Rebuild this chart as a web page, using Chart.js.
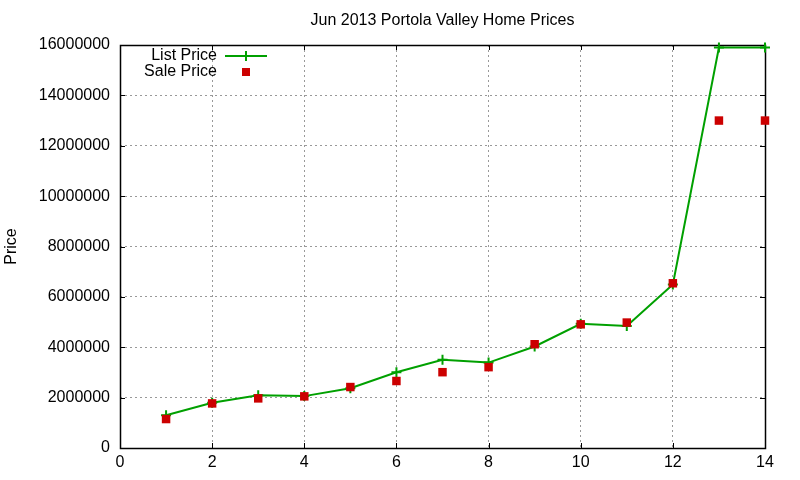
<!DOCTYPE html>
<html>
<head>
<meta charset="utf-8">
<script src="https://cdn.jsdelivr.net/npm/chart.js@4/dist/chart.umd.min.js"></script>
<style>
html,body{margin:0;padding:0;background:#fff;}
#c{display:block;}
</style>
</head>
<body>
<canvas id="c" width="800" height="480"></canvas>
<script>
const chartTitle = 'Jun 2013 Portola Valley Home Prices';
const yAxisTitle = 'Price';
const houses = [1, 2, 3, 4, 5, 6, 7, 8, 9, 10, 11, 12, 13, 14];
const listPrice = [1300000, 1800000, 2090000, 2060000, 2370000, 3010000, 3500000, 3390000, 4030000, 4930000, 4840000, 6490000, 15900000, 15900000];
const salePrice = [1150000, 1770000, 1970000, 2050000, 2420000, 2660000, 3010000, 3210000, 4120000, 4910000, 4980000, 6540000, 13000000, 13000000];
const seriesNames = ['List Price', 'Sale Price'];
const xTickValues = [0, 2, 4, 6, 8, 10, 12, 14];
const yTickValues = [0, 2000000, 4000000, 6000000, 8000000, 10000000, 12000000, 14000000, 16000000];

const FONT = "'Liberation Sans', Arial, sans-serif";
const GREEN = '#00a000';
const RED = '#cc0000';

const toPoints = (xs, ys) => xs.map((x, i) => ({x: x, y: ys[i]}));

const framePlugin = {
  id: 'frame',
  beforeDatasetsDraw(chart) {
    const {ctx, chartArea: a, scales} = chart;
    ctx.save();
    ctx.strokeStyle = '#000';
    ctx.lineWidth = 1;
    ctx.beginPath();
    const tl = 5;
    xTickValues.forEach(v => {
      const x = Math.round(scales.x.getPixelForValue(v)) + 0.5;
      ctx.moveTo(x, a.bottom); ctx.lineTo(x, a.bottom - tl);
      ctx.moveTo(x, a.top); ctx.lineTo(x, a.top + tl);
    });
    yTickValues.forEach(v => {
      const y = Math.round(scales.y.getPixelForValue(v)) + 0.5;
      ctx.moveTo(a.left, y); ctx.lineTo(a.left + tl, y);
      ctx.moveTo(a.right, y); ctx.lineTo(a.right - tl, y);
    });
    ctx.stroke();
    ctx.lineWidth = 1.5;
    ctx.strokeRect(Math.round(a.left) + 0.5, Math.round(a.top) + 0.5, Math.round(a.right - a.left), Math.round(a.bottom - a.top));
    ctx.restore();
  },
  afterDraw(chart) {
    const {ctx, chartArea: a} = chart;
    ctx.save();
    ctx.fillStyle = '#000';
    ctx.font = '16px ' + FONT;
    ctx.textAlign = 'center';
    ctx.textBaseline = 'middle';
    ctx.fillText(chartTitle, (a.left + a.right) / 2, 21);
    // legend
    ctx.textAlign = 'right';
    const tx = 217, sx0 = 225, sx1 = 267, sc = 246;
    const y1 = 56, y2 = 72;
    ctx.fillText(chart.data.datasets[1].label, tx, y1);
    ctx.fillText(chart.data.datasets[0].label, tx, y2);
    ctx.strokeStyle = GREEN;
    ctx.lineWidth = 2;
    ctx.beginPath();
    ctx.moveTo(sx0, y1); ctx.lineTo(sx1, y1);
    ctx.moveTo(sc, y1 - 5); ctx.lineTo(sc, y1 + 5);
    ctx.stroke();
    ctx.fillStyle = RED;
    ctx.fillRect(sc - 4, y2 - 4, 8, 8);
    ctx.restore();
  }
};

new Chart(document.getElementById('c'), {
  type: 'line',
  data: {
    datasets: [
      {
        label: seriesNames[1],
        data: toPoints(houses, salePrice),
        showLine: false,
        pointStyle: 'rect',
        pointRadius: 6,
        pointHoverRadius: 6,
        backgroundColor: RED,
        borderColor: RED,
        borderWidth: 0,
        pointBorderWidth: 0,
        order: 0,
        clip: false
      },
      {
        label: seriesNames[0],
        data: toPoints(houses, listPrice),
        borderColor: GREEN,
        backgroundColor: GREEN,
        borderWidth: 2,
        tension: 0,
        pointStyle: 'cross',
        pointRadius: 5,
        pointHoverRadius: 5,
        pointBorderWidth: 2,
        pointBorderColor: GREEN,
        order: 1,
        clip: false
      }
    ]
  },
  options: {
    responsive: false,
    animation: false,
    devicePixelRatio: 1,
    events: [],
    layout: {padding: {top: 45, right: 35, left: 0, bottom: 0}},
    plugins: {legend: {display: false}, title: {display: false}, tooltip: {enabled: false}},
    scales: {
      x: {
        type: 'linear',
        min: 0, max: 14,
        afterFit(s) { s.height = 32; },
        afterBuildTicks(s) { s.ticks = xTickValues.map(v => ({value: v})); },
        ticks: {font: {family: FONT, size: 16}, color: '#000', padding: 5, maxRotation: 0, callback: v => String(v)},
        grid: {color: '#999999', drawTicks: false, lineWidth: 1},
        border: {display: false, dash: [2, 3]}
      },
      y: {
        type: 'linear',
        min: 0, max: 16000000,
        afterFit(s) { s.width = 120; },
        afterBuildTicks(s) { s.ticks = yTickValues.map(v => ({value: v})); },
        ticks: {font: {family: FONT, size: 16}, color: '#000', padding: 10, callback: v => String(v)},
        grid: {color: '#999999', drawTicks: false, lineWidth: 1},
        border: {display: false, dash: [2, 3]},
        title: {display: true, text: yAxisTitle, font: {family: FONT, size: 16}, color: '#000', padding: {top: 2, bottom: 0}}
      }
    }
  },
  plugins: [framePlugin]
});
</script>
</body>
</html>
